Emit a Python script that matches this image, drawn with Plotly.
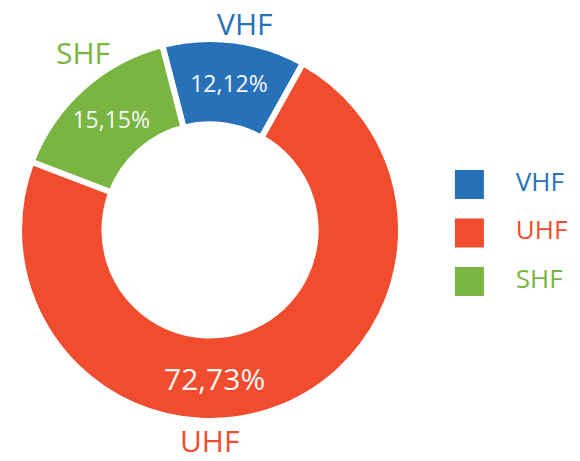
import plotly.graph_objects as go

categories = ["VHF", "UHF", "SHF"]
values = [4, 24, 5]
colors = ["#2771b9", "#f04c2d", "#7ab542"]

total = sum(values)
pct_text = [f"{v / total * 100:.2f}%".replace(".", ",") for v in values]

fig = go.Figure()

fig.add_trace(go.Pie(
    labels=categories, values=values, sort=False, direction="clockwise",
    rotation=-14.5, hole=0.553,
    marker=dict(colors=colors, line=dict(color="white", width=6)),
    texttemplate=["%{percent:.2%}", "", "%{percent:.2%}"],
    textposition="inside", insidetextorientation="horizontal",
    textfont=dict(family="Open Sans", size=23, color="#f7f7f7"),
    domain=dict(x=[0.0328, 0.6914], y=[0.0868, 0.9154]),
    showlegend=False, hoverinfo="label+percent",
))

# legend built from the data
fig.add_trace(go.Scatter(
    x=[0] * len(categories), y=categories, mode="markers",
    marker=dict(symbol="square", size=29, color=colors),
    xaxis="x", yaxis="y", showlegend=False, hoverinfo="skip",
))
fig.add_trace(go.Scatter(
    x=[1.5] * len(categories), y=categories, mode="text", text=categories,
    textposition="middle right",
    textfont=dict(family="Open Sans", size=26, color=colors),
    xaxis="x", yaxis="y", showlegend=False, hoverinfo="skip",
))

# outside category labels
label_pos = {"VHF": (0.4224, 0.950), "UHF": (0.361, 0.0434), "SHF": (0.143, 0.887)}
annotations = []
for cat, col in zip(categories, colors):
    px, py = label_pos[cat]
    annotations.append(dict(x=px, y=py, xref="paper", yref="paper", text=cat,
                            showarrow=False, xanchor="center", yanchor="middle",
                            font=dict(family="Open Sans", size=30, color=col)))
annotations.append(dict(x=0.369, y=0.18, xref="paper", yref="paper",
                        text=pct_text[1], showarrow=False,
                        xanchor="center", yanchor="middle",
                        font=dict(family="Open Sans", size=30, color="#f7f7f7")))

fig.update_layout(
    width=580, height=461, margin=dict(l=0, r=0, t=0, b=0),
    paper_bgcolor="white", plot_bgcolor="white",
    separators=",.",
    xaxis=dict(domain=[0.78, 0.98], range=[-0.55, 3.2], visible=False, fixedrange=True),
    yaxis=dict(domain=[0.2744, 0.7148], range=[3.09, -1.09], visible=False, fixedrange=True,
               type="category", categoryorder="array", categoryarray=categories),
    annotations=annotations,
)

fig.write_html("out.html", config={"displayModeBar": False},
               post_script="document.body.style.margin='0';")
